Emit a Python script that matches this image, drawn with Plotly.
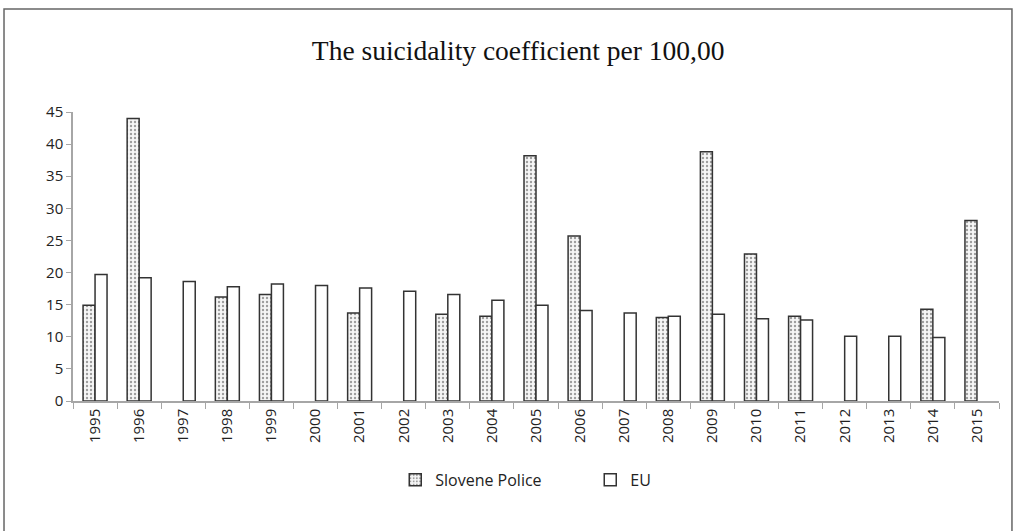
import plotly.graph_objects as go

years = [str(y) for y in range(1995, 2016)]

slovene_police = [14.9, 44.0, None, 16.2, 16.6, None, 13.7, None, 13.5, 13.2,
                  38.2, 25.7, None, 13.0, 38.8, 22.9, 13.2, None, None, 14.3, 28.1]
eu = [19.7, 19.2, 18.6, 17.8, 18.2, 18.0, 17.6, 17.1, 16.6, 15.7,
      14.9, 14.1, 13.7, 13.2, 13.5, 12.8, 12.6, 10.1, 10.1, 9.9, None]

y_ticks = list(range(0, 50, 5))

outline = dict(color="#333333", width=1.5)
axis_grey = "#a6a6a6"
sans = "Open Sans"

fig = go.Figure()
fig.add_trace(go.Bar(
    name="Slovene Police", x=years, y=slovene_police,
    marker=dict(color="#f6f6f6", line=outline,
                pattern=dict(shape=".", fgcolor="#444444", bgcolor="#f6f6f6",
                             size=4, solidity=0.28)),
))
fig.add_trace(go.Bar(
    name="EU", x=years, y=eu,
    marker=dict(color="white", line=outline),
))

fig.update_layout(
    width=1016, height=531,
    margin=dict(l=73, r=17, t=112, b=130, autoexpand=False),
    paper_bgcolor="white", plot_bgcolor="white",
    font=dict(family=sans, size=15, color="#222222"),
    barmode="group", bargap=0.456, bargroupgap=0,
    title=dict(text="The suicidality coefficient per 100,00",
               font=dict(family="Liberation Serif, Times New Roman, serif",
                         size=27.5, color="#111111"),
               x=0.51, xref="container", xanchor="center",
               y=0.905, yref="container", yanchor="middle"),
    showlegend=True,
    legend=dict(orientation="h", x=0.348, xanchor="left", y=-0.273, yanchor="middle",
                font=dict(family=sans, size=16, color="#222222"),
                entrywidth=150, entrywidthmode="pixels", itemwidth=30,
                bgcolor="rgba(0,0,0,0)"),
    xaxis=dict(type="category", tickangle=-90, automargin=False,
               tickfont=dict(family=sans, size=15, color="#222222"),
               showline=True, linecolor=axis_grey, linewidth=1.5,
               ticks="outside", tickson="boundaries", ticklen=6, tickcolor=axis_grey,
               showgrid=False, zeroline=False),
    yaxis=dict(range=[0, 45], tickvals=y_ticks, automargin=False,
               tickfont=dict(family=sans, size=15, color="#222222"),
               showline=True, linecolor=axis_grey, linewidth=1.5,
               ticks="outside", ticklen=5, tickcolor=axis_grey,
               showgrid=False, zeroline=False),
    shapes=[dict(type="rect", xref="paper", yref="paper",
                 x0=-0.0745, x1=1.014, y0=-0.5, y1=1.356,
                 line=dict(color="#666666", width=1.5))],
)

fig.write_html("out.html")
